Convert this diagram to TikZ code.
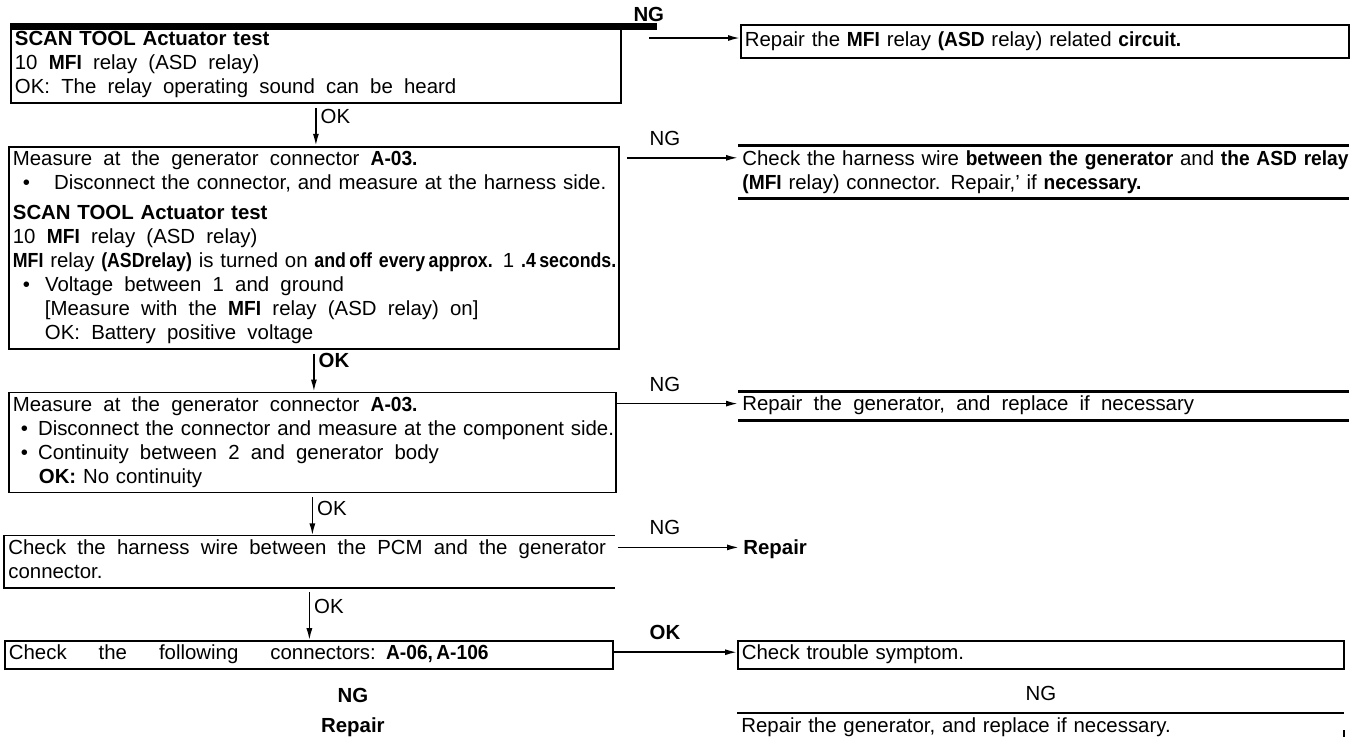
\documentclass[tikz,border=0pt]{standalone}
\usepackage{fontspec}
\setmainfont{Liberation Sans}
\newfontfamily\narrowfont{Liberation Sans}[FakeStretch=0.94]
\newfontfamily\condfont{Liberation Sans}[FakeStretch=0.87]
\usetikzlibrary{arrows.meta, positioning}
\newcommand\nb[1]{{\narrowfont\bfseries #1}}
\newcommand\cb[1]{{\condfont\bfseries #1}}
\newcommand\wide{\spaceskip=0.55em\relax}

\begin{document}
\begin{tikzpicture}[x=0.5pt, y=-0.5pt, font=\fontsize{10.2}{12}\selectfont,
  >={Latex[length=6pt,width=3pt]},
  leftbox/.style={text width=#1, align=left, inner xsep=2pt, inner ysep=1pt,
                  execute at begin node=\strut, execute at end node=\strut},
  framed/.style={draw, line width=0.9pt},
  lbl/.style={inner sep=1pt},
  arr/.style={->, line width=0.8pt}]
  \useasboundingbox (0,0) rectangle (1355,736);
  \coordinate (rcol) at (737,0);
  \coordinate (ngcol) at (665,0);

  % left column
  \node[leftbox=301pt, framed, anchor=north west] (b1) at (10,26)
    {\textbf{SCAN TOOL Actuator test}\\
     {\wide 10 \nb{MFI} relay (ASD relay)}\\
     {\wide OK: The relay operating sound can be heard}};
  \node[leftbox=301pt, framed, below=21pt of b1.south west, anchor=north west, xshift=-1pt] (b2)
    {{\wide Measure at the generator connector \nb{A-03.}}\\
     \mbox{\hspace*{5pt}\textbullet\hspace{12pt}Disconnect the connector, and measure at the harness side.}\\[3pt]
     \textbf{SCAN TOOL Actuator test}\\
     {\wide 10 \nb{MFI} relay (ASD relay)}\\
     \mbox{\cb{MFI} relay \cb{(ASDrelay)} is turned on \cb{and\,off every\,approx.} 1 \cb{.4\,seconds.}}\\
     \hspace*{5pt}\textbullet\hspace{7.5pt}{\wide Voltage between 1 and ground}\\
     \hspace*{16pt}{\wide [Measure with the \nb{MFI} relay (ASD relay) on]}\\
     \hspace*{16pt}{\wide OK: Battery positive voltage}};
  \node[leftbox=299.5pt, framed, below=21pt of b2.south west, anchor=north west] (b3)
    {{\wide Measure at the generator connector \nb{A-03.}}\\
     \mbox{\hspace*{4pt}\textbullet\hspace{5pt}Disconnect the connector and measure at the component side.}\\
     \hspace*{4pt}\textbullet\hspace{5pt}{\wide Continuity between 2 and generator body}\\
     \hspace*{13pt}\textbf{OK:} No continuity};
  \node[leftbox=301pt, below=21pt of b3.south west, anchor=north west, xshift=-2pt] (b4)
    {\mbox{\wide Check the harness wire between the PCM and the generator}\\
     connector.};
  \draw[line width=0.9pt] (b4.north east) -- (b4.north west) -- (b4.south west) -- (b4.south east);
  \node[leftbox=300pt, framed, below=26pt of b4.south west, anchor=north west] (b5)
    {{\spaceskip=16pt\relax Check the following connectors: \nb{A-06,\,A-106}}};
  \node[lbl, below=8pt of b5, xshift=22pt] (ng6) {\textbf{NG}};
  \node[lbl, below=5pt of ng6] (rp6) {\textbf{Repair}};
  \draw[line width=3.5pt] (b1.north west) -- ([xshift=17.5pt]b1.north east);

  % right column
  \node[leftbox=300pt, framed, inner ysep=2.25pt, anchor=north west, xshift=1.5pt, yshift=1pt] (r1)
    at (b1.north -| rcol)
    {Repair the \nb{MFI} relay \nb{(ASD} relay) related \nb{circuit.}};
  \node[leftbox=301pt, anchor=north west, xshift=0.5pt] (r2) at (b2.north -| rcol)
    {\mbox{Check the harness wire \nb{between the generator} and \nb{the ASD relay}}\\
     \nb{(MFI} relay) connector. Repair,’ if \nb{necessary.}};
  \draw[line width=1.4pt] (r2.north west) -- (r2.north east) (r2.south west) -- (r2.south east);
  \node[leftbox=301pt, anchor=north west, xshift=0.5pt] (r3) at (b3.north -| rcol)
    {{\wide Repair the generator, and replace if necessary}};
  \draw[line width=1.4pt] (r3.north west) -- (r3.north east) (r3.south west) -- (r3.south east);
  \node[leftbox=100pt, anchor=north west, xshift=1pt] (r4) at (b4.north -| rcol)
    {\textbf{Repair}};
  \node[leftbox=299pt, framed, anchor=north west] (r5) at (b5.north -| rcol)
    {Check trouble symptom.};
  \node[lbl, below=7pt of r5] (ngr) {NG};
  \node[leftbox=299pt, anchor=north west, yshift=-5pt] (r6) at (ngr.south -| r5.west)
    {Repair the generator, and replace if necessary.};
  \draw[line width=0.9pt] (r6.north west) -- (r6.north east) (r6.south west) -- (r6.south east) -- ++(0,6pt);

  % OK connectors
  \draw[arr, shorten <=2pt] (b1.south) -- (b1.south |- b2.north) node[lbl, pos=0.3, right=1pt] (ok1) {OK};
  \draw[arr, shorten <=2pt] (b2.south) -- (b2.south |- b3.north) node[lbl, pos=0.25, right=1pt] (ok2) {\textbf{OK}};
  \draw[arr, shorten <=2pt] (b3.south) -- (b3.south |- b4.north) node[lbl, pos=0.35, right=1pt] (ok3) {OK};
  \draw[arr, shorten <=2pt] (b4.south) -- (b4.south |- b5.north) node[lbl, pos=0.35, right=1pt] (ok4) {OK};

  % NG connectors
  \draw[arr] ([xshift=13.5pt, yshift=-6pt]b1.north east) coordinate (a1) -- (a1 -| r1.west);
  \draw[arr] ([xshift=3.5pt, yshift=-6pt]b2.north east) coordinate (a2) -- (a2 -| r2.west);
  \draw[arr] ([yshift=-6pt]b3.north east) coordinate (a3) -- (a3 -| r3.west);
  \draw[arr] ([xshift=1.5pt, yshift=-6pt]b4.north east) coordinate (a4) -- (a4 -| r4.west);
  \draw[arr] ([yshift=-6pt]b5.north east) coordinate (a5) -- (a5 -| r5.west);
  \node[lbl, anchor=south, yshift=7pt] (ng1) at (a1) {\textbf{NG}};
  \node[lbl, anchor=south, yshift=5pt] (ng2) at (a2 -| ngcol) {NG};
  \node[lbl, anchor=south, yshift=5pt] (ng3) at (a3 -| ngcol) {NG};
  \node[lbl, anchor=south, yshift=5pt] (ng4) at (a4 -| ngcol) {NG};
  \node[lbl, anchor=south, yshift=5pt] (ok5) at (a5 -| ngcol) {\textbf{OK}};
\end{tikzpicture}
\end{document}
